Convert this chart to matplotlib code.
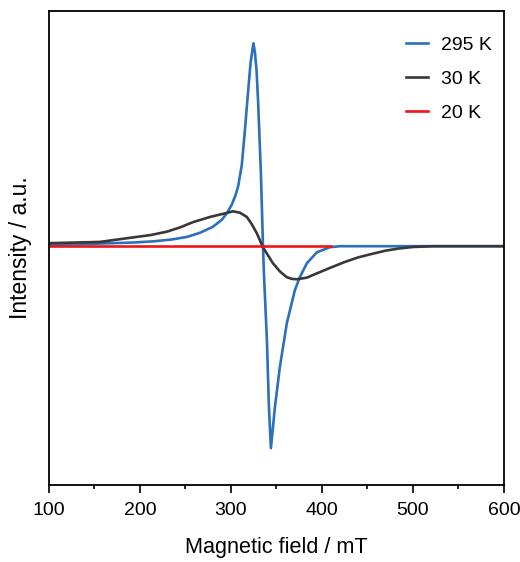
#!/usr/bin/env python3
# -*- coding: utf-8 -*-
"""EPR spectra at 295 K, 30 K and 20 K"""

import matplotlib
matplotlib.use('Agg')
import matplotlib.pyplot as plt
from matplotlib.ticker import MultipleLocator

plt.rcParams['font.family'] = ['Liberation Sans', 'DejaVu Sans']

# 295 K (normalised to peak = 1)
field_295 = [100, 156, 192, 215, 235, 252, 266, 280, 290, 296, 301, 305, 308,
             312, 315.4, 318.4, 321.6, 323.3, 324.8, 326.4, 328.2, 330, 333,
             335.2, 336.3, 339.6, 341.8, 344, 348.4, 353.8, 361.5, 370.3, 375.8,
             383.5, 394.5, 408.8, 420, 500, 600]
int_295 = [0.005, 0.013, 0.018, 0.024, 0.033, 0.046, 0.066, 0.095, 0.130, 0.165,
           0.205, 0.250, 0.295, 0.40, 0.571, 0.734, 0.901, 0.956, 1.0, 0.956,
           0.867, 0.704, 0.36, 0.015, -0.133, -0.463, -0.793, -0.995, -0.793,
           -0.596, -0.379, -0.217, -0.153, -0.084, -0.030, -0.005, 0.0, 0.0, 0.0]

# 30 K
field_30 = [100, 156, 192, 212, 230, 245, 258, 277, 288, 295.6, 302.2, 310,
            317.6, 323, 328.6, 335.2, 346.2, 354, 361.5, 367, 372.5, 383.5,
            395, 410, 425, 440, 455, 470, 485, 500, 522, 600]
int_30 = [0.015, 0.021, 0.043, 0.055, 0.072, 0.094, 0.118, 0.144, 0.156, 0.164,
          0.172, 0.165, 0.144, 0.108, 0.063, -0.005, -0.084, -0.125, -0.153,
          -0.161, -0.163, -0.155, -0.133, -0.105, -0.078, -0.055, -0.038,
          -0.022, -0.011, -0.004, 0.0, 0.0]

# 20 K (flat)
field_20 = [100, 250, 410]
int_20 = [0.0, 0.0, 0.0]

fig = plt.figure(figsize=(5.2, 5.62), dpi=100)
ax = fig.add_axes([0.094, 0.137, 0.875, 0.843])

ax.plot(field_295, int_295, color='#2a70bd', lw=1.9, label='295 K')
ax.plot(field_30, int_30, color='#383838', lw=1.9, label='30 K')
ax.plot(field_20, int_20, color='#f01418', lw=1.9, label='20 K')

ax.set_xlim(100, 600)
ax.set_ylim(-1.177, 1.158)
ax.set_yticks([])
ax.xaxis.set_major_locator(MultipleLocator(100))
ax.xaxis.set_minor_locator(MultipleLocator(50))
ax.tick_params(axis='x', which='major', direction='out', length=6, width=1.2,
               labelsize=14, pad=6)
ax.tick_params(axis='x', which='minor', direction='out', length=3, width=1.2)
for sp in ax.spines.values():
    sp.set_linewidth(1.3)

ax.set_xlabel('Magnetic field / mT', fontsize=15.6, labelpad=13)
ax.set_ylabel('Intensity / a.u.', fontsize=16.5, labelpad=12)

ax.legend(loc='upper right', bbox_to_anchor=(0.991, 0.964), borderaxespad=0,
          frameon=False, fontsize=14, handlelength=1.13, handletextpad=0.67,
          labelspacing=0.85)

plt.savefig('out.png', dpi=100)
plt.close()
